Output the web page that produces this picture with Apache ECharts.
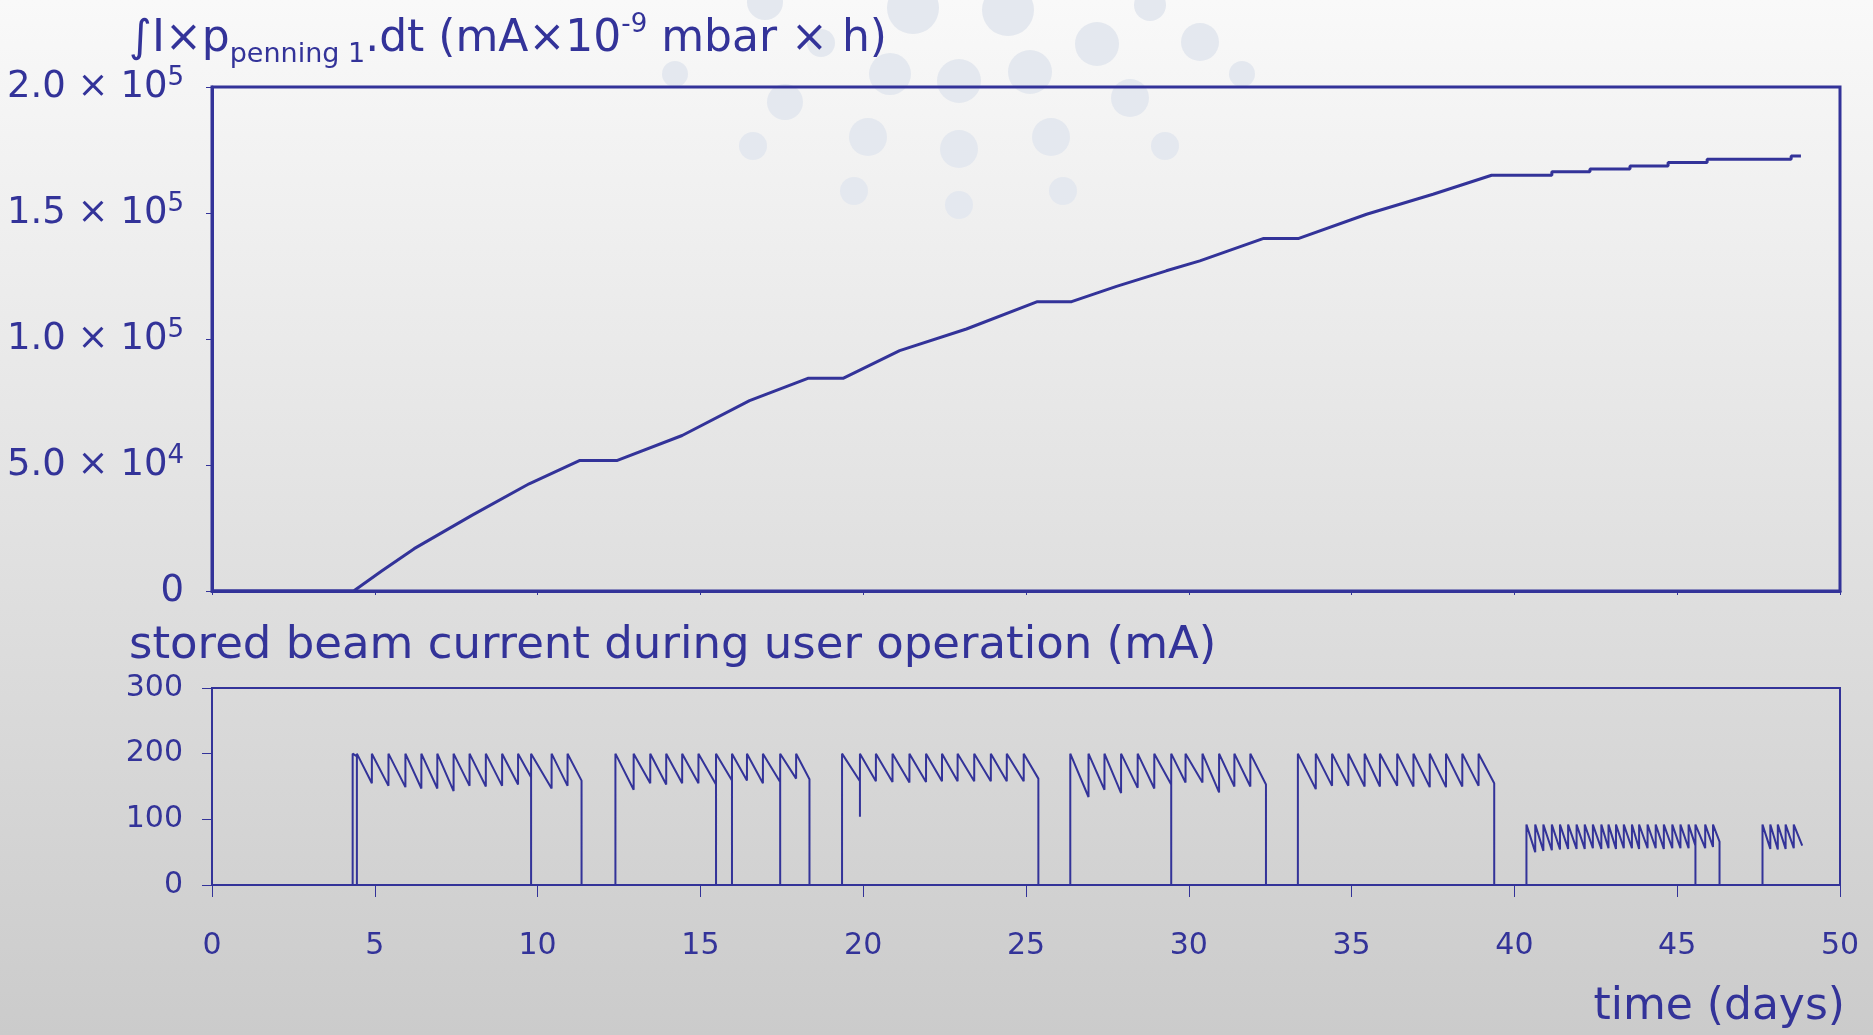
<!DOCTYPE html>
<html>
<head>
<meta charset="utf-8">
<script src="https://cdn.jsdelivr.net/npm/echarts@6/dist/echarts.min.js"></script>
<style>
html,body{margin:0;padding:0;}
#main{width:1873px;height:1035px;}
</style>
</head>
<body>
<div id="main"></div>
<script>
// integrated dose (top panel)
var doseDays = [0, 4.35, 5.2, 6.21, 7.98, 9.74, 11.3, 12.45, 14.44, 16.51, 18.3, 19.38, 21.12, 23.17, 25.35, 26.4,
	27.78, 29.31, 30.34, 32.3, 33.38, 35.46, 37.5, 39.3, 41.15, 41.15, 42.32, 42.32, 43.55, 43.55, 44.72, 44.72,
	45.92, 45.92, 48.5, 48.5, 48.8];
var doseVals = [0, 0, 7800, 16800, 30000, 42550, 51800, 51800, 61700, 75560, 84400, 84400, 95400, 103960, 114800, 114800,
	120900, 127060, 131000, 139900, 139900, 149500, 157450, 165000, 165000, 166400, 166400, 167500, 167500, 168700, 168700, 170000,
	170000, 171300, 171300, 172600, 172600];

// stored beam current (bottom panel): one entry per user run
var runStart = [4.32, 12.39, 19.35, 26.36, 33.35, 40.37, 47.62];
var runEnd = [11.35, 18.35, 25.38, 32.37, 39.38, 46.3, 48.84];
var runEndVal = [159, 161, 162, 153, 155, 66, 60];
var runTop = [200, 200, 200, 200, 200, 92, 92];
// refill times and the current just before each refill
var refills = [
	[4.45, 4.91, 5.42, 5.94, 6.43, 6.92, 7.42, 7.91, 8.41, 8.91, 9.40, 9.80, 10.43, 10.92],
	[12.95, 13.46, 13.95, 14.44, 14.94, 15.48, 15.97, 16.43, 16.92, 17.45, 17.94],
	[19.90, 20.39, 20.90, 21.42, 21.93, 22.42, 22.90, 23.41, 23.92, 24.41, 24.93],
	[26.92, 27.41, 27.92, 28.43, 28.94, 29.46, 29.90, 30.42, 30.93, 31.40, 31.89],
	[33.90, 34.40, 34.90, 35.40, 35.87, 36.40, 36.90, 37.40, 37.90, 38.40, 38.90],
	[40.64, 40.89, 41.15, 41.40, 41.65, 41.91, 42.16, 42.41, 42.67, 42.89, 43.12, 43.36, 43.61, 43.83, 44.09, 44.34,
		44.59, 44.85, 45.10, 45.35, 45.56, 45.86, 46.10],
	[47.86, 48.09, 48.33, 48.58]
];
var troughs = [
	[196, 155, 151, 149, 147, 147, 143, 151, 150, 151, 153, 164, 147, 151],
	[145, 155, 153, 155, 155, 153, 159, 159, 155, 157, 162],
	[158, 158, 157, 156, 157, 158, 158, 158, 158, 158, 158],
	[134, 145, 140, 148, 147, 153, 156, 156, 141, 150, 150],
	[146, 151, 151, 150, 150, 151, 150, 149, 149, 150, 151],
	[50, 52, 53, 54, 55, 55, 55, 56, 55, 56, 55, 56, 56, 55, 56, 56, 55, 56, 56, 56, 60, 56, 58],
	[55, 54, 55, 56]
];
// beam losses / dips before a refill: [day, current]
var dips = [[4.45, 0], [9.80, 0], [15.48, 0], [15.97, 0], [17.45, 0], [19.90, 104], [29.46, 0], [45.56, 0]];

var yTopMant = ['0', '5.0', '1.0', '1.5', '2.0'];
var yTopExp = ['', '4', '5', '5', '5'];

var blue = '#333399';
var ff = 'DejaVu Sans';

var beam = [[0, 0]];
runStart.forEach(function(s, r){
	beam.push([s, 0], [s, runTop[r]]);
	refills[r].forEach(function(t, i){
		beam.push([t, troughs[r][i]]);
		dips.forEach(function(d){
			if (d[0] === t) beam.push([t, d[1]]);
		});
		beam.push([t, runTop[r]]);
	});
	beam.push([runEnd[r], runEndVal[r]]);
	if (r < runStart.length - 1) beam.push([runEnd[r], 0]);
});

var dose = doseDays.map(function(d, i){ return [d, doseVals[i]]; });

// faint logo dots in the background
var dots = [
	[675,74,13],[753,146,14],[785,102,18],[854,191,14],[868,137,19],[890,74,21],[959,149,19],[959,205,14],
	[959,81,22],[1030,72,22],[1051,137,19],[1063,191,14],[1097,44,22],[1130,98,19],[1165,146,14],[1200,42,19],
	[1242,74,13],[913,8,26],[1008,10,26],[765,2,18],[1150,5,16],[821,43,14]
];
var dotGraphics = dots.map(function(c){
	return {type:'circle', shape:{cx:c[0], cy:c[1], r:c[2]}, style:{fill:'#e4e8ef'}, z:-10, silent:true};
});

var chart = echarts.init(document.getElementById('main'));
chart.setOption({
	animation: false,
	backgroundColor: {
		type: 'linear', x: 0, y: 0, x2: 0, y2: 1,
		colorStops: [{offset: 0, color: '#f9f9f9'}, {offset: 1, color: '#cbcbcb'}]
	},
	graphic: dotGraphics,
	title: [
		{
			text: '{m|∫I×p}{sub|penning 1}{m|.dt (mA×10}{sup|-9}{m| mbar × h)}',
			left: 129, top: 12, padding: 0,
			textStyle: {
				fontWeight: 'normal',
				rich: {
					m: {fontFamily: ff, fontSize: 44, fontWeight: 'normal', lineHeight: 56, color: blue},
					sub: {fontFamily: ff, fontSize: 27, fontWeight: 'normal', lineHeight: 26, verticalAlign: 'bottom', color: blue},
					sup: {fontFamily: ff, fontSize: 26, fontWeight: 'normal', lineHeight: 42, verticalAlign: 'top', color: blue}
				}
			}
		},
		{
			text: 'stored beam current during user operation (mA)',
			left: 129, top: 624, padding: 0,
			textStyle: {fontFamily: ff, fontSize: 45, fontWeight: 'normal', color: blue, lineHeight: 44}
		},
		{
			text: 'time (days)',
			right: 28, top: 986, padding: 0,
			textStyle: {fontFamily: ff, fontSize: 44, fontWeight: 'normal', color: blue, lineHeight: 44}
		}
	],
	grid: [
		{left: 212, right: 33, top: 87, height: 504, show: true, borderColor: blue, borderWidth: 3},
		{left: 212, right: 33, top: 688, height: 197, show: true, borderColor: blue, borderWidth: 2}
	],
	xAxis: [
		{
			gridIndex: 0, type: 'value', min: 0, max: 50, interval: 5,
			axisLine: {lineStyle: {color: blue, width: 3}},
			axisTick: {length: 4, lineStyle: {color: blue, width: 1}},
			axisLabel: {show: false},
			splitLine: {show: false}
		},
		{
			gridIndex: 1, type: 'value', min: 0, max: 50, interval: 5,
			axisLine: {lineStyle: {color: blue, width: 2}},
			axisTick: {length: 12, lineStyle: {color: blue, width: 1}},
			axisLabel: {fontFamily: ff, fontSize: 30, color: blue, margin: 46},
			splitLine: {show: false}
		}
	],
	yAxis: [
		{
			gridIndex: 0, type: 'value', min: 0, max: 200000, interval: 50000,
			axisLine: {show: true, lineStyle: {color: blue, width: 3}},
			axisTick: {show: true, length: 6, lineStyle: {color: blue, width: 1}},
			axisLabel: {
				margin: 28,
				formatter: function(v){
					var i = Math.round(v / 50000);
					if (!yTopExp[i]) return '{b|' + yTopMant[i] + '}';
					return '{b|' + yTopMant[i] + ' × 10}{s|' + yTopExp[i] + '}';
				},
				rich: {
					b: {fontFamily: ff, fontSize: 37, lineHeight: 44, color: blue},
					s: {fontFamily: ff, fontSize: 26, lineHeight: 30, verticalAlign: 'top', color: blue}
				}
			},
			splitLine: {show: false}
		},
		{
			gridIndex: 1, type: 'value', min: 0, max: 300, interval: 100,
			axisLine: {show: true, lineStyle: {color: blue, width: 2}},
			axisTick: {show: true, length: 10, lineStyle: {color: blue, width: 1}},
			axisLabel: {fontFamily: ff, fontSize: 30, color: blue, margin: 29},
			splitLine: {show: false}
		}
	],
	series: [
		{
			name: 'dose', type: 'line', xAxisIndex: 0, yAxisIndex: 0,
			data: dose, showSymbol: false, symbol: 'none',
			lineStyle: {color: blue, width: 3}
		},
		{
			name: 'beam', type: 'line', xAxisIndex: 1, yAxisIndex: 1,
			data: beam, showSymbol: false, symbol: 'none',
			lineStyle: {color: blue, width: 2}
		}
	]
});
</script>
</body>
</html>
